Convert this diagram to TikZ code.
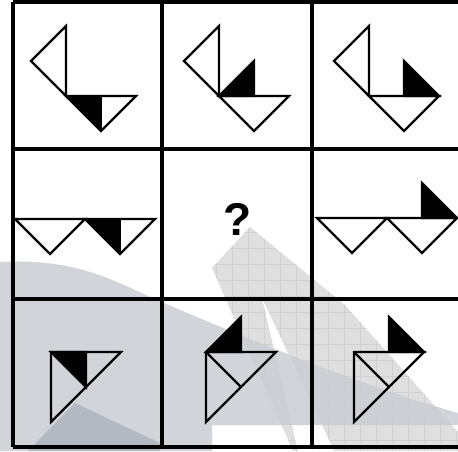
\documentclass[tikz,border=0pt]{standalone}
\usepackage{fontspec}
\setsansfont{Liberation Sans}
\definecolor{bandgray}{HTML}{DFDFDF}
\definecolor{bandline}{HTML}{D0D0D0}
\definecolor{hazeblue}{HTML}{C9CED4}
\definecolor{hazedark}{HTML}{B2B9C1}

\begin{document}
\begin{tikzpicture}[
    x=1pt, y=-1pt,
    gridline/.style={line width=3.2pt, black},
    piece/.style={line width=2.2pt, black, line join=miter},
    solidpiece/.style={piece, fill=black},
    quest/.style={font=\sffamily\bfseries\fontsize{46}{46}\selectfont, inner sep=0pt},
]
\clip (0,0) rectangle (458,451);
\fill[white] (0,0) rectangle (458,451);

% Watermark behind the puzzle
\fill[bandgray] (212,268) -- (250,227) -- (345,305) -- (458,432) -- (458,451) -- (293,451) -- cycle;
\begin{scope}
  \clip (212,268) -- (250,227) -- (345,305) -- (458,432) -- (458,451) -- (293,451) -- cycle;
  \foreach \k in {0,...,16} {
    \draw[bandline, line width=0.6pt] (200+16*\k,216) -- (200+16*\k,460);
    \draw[bandline, line width=0.6pt] (200,216+16*\k) -- (470,216+16*\k);
  }
\end{scope}
\fill[white] (262,298) -- (334,451) -- (298,451) -- cycle;
\fill[hazeblue, opacity=0.85] (0,262) .. controls (70,258) and (110,278) .. (150,297)
    .. controls (250,340) and (360,385) .. (458,413)
    -- (458,425) -- (212,425) -- (212,451) -- (0,451) -- cycle;
\fill[hazedark] (75,403) -- (160,443) -- (160,451) -- (28,451) -- cycle;

% Grid
\draw[gridline] (13,2) -- (470,2);
\draw[gridline] (13,149) -- (470,149);
\draw[gridline] (13,299) -- (470,299);
\draw[gridline] (13,447) -- (470,447);
\draw[gridline] (13,2) -- (13,447);
\draw[gridline] (162,2) -- (162,447);
\draw[gridline] (312,2) -- (312,447);

% Row 1
\draw[piece] (66,26) -- (31,61) -- (66,96) -- cycle;
\fill[black] (66,96) -- (101,96) -- (101,131) -- cycle;
\draw[piece] (66,96) -- (136,96) -- (101,131) -- cycle;
\draw[piece] (101,96) -- (101,131);

\draw[piece] (219,26) -- (184,61) -- (219,96) -- cycle;
\draw[solidpiece] (219,96) -- (254,96) -- (254,61) -- cycle;
\draw[piece] (219,96) -- (289,96) -- (254,131) -- cycle;

\draw[piece] (369,26) -- (334,61) -- (369,96) -- cycle;
\draw[solidpiece] (404,96) -- (439,96) -- (404,61) -- cycle;
\draw[piece] (369,96) -- (439,96) -- (404,131) -- cycle;

% Row 2
\draw[piece] (15,219) -- (85,219) -- (50,254) -- cycle;
\fill[black] (85,219) -- (120,219) -- (120,254) -- cycle;
\draw[piece] (85,219) -- (155,219) -- (120,254) -- cycle;
\draw[piece] (120,219) -- (120,254);

\node[quest] (ask) at (238,219) {?};

\draw[piece] (317,218) -- (387,218) -- (352,253) -- cycle;
\draw[solidpiece] (422,218) -- (457,218) -- (422,183) -- cycle;
\draw[piece] (387,218) -- (457,218) -- (422,253) -- cycle;

% Row 3
\draw[solidpiece] (51,352) -- (86,352) -- (86,387) -- cycle;
\draw[piece] (51,352) -- (121,352) -- (51,422) -- cycle;

\draw[solidpiece] (206,352) -- (241,352) -- (241,317) -- cycle;
\draw[piece] (206,352) -- (276,352) -- (206,422) -- cycle;
\draw[piece] (206,352) -- (241,387);

\draw[solidpiece] (389,352) -- (424,352) -- (389,317) -- cycle;
\draw[piece] (354,352) -- (424,352) -- (354,422) -- cycle;
\draw[piece] (354,352) -- (389,387);
\end{tikzpicture}
\end{document}
